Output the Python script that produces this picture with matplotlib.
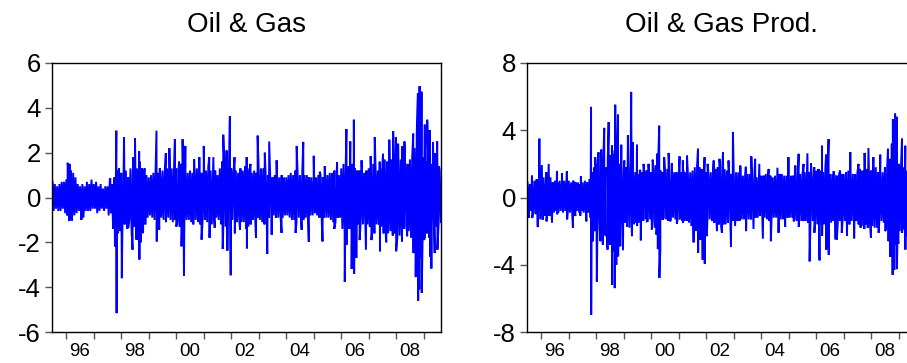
import numpy as np
import matplotlib
matplotlib.use("Agg")
import matplotlib.pyplot as plt

plt.rcParams["font.family"] = ["Liberation Sans", "DejaVu Sans"]
plt.rcParams["axes.unicode_minus"] = False

# monthly envelope of the dense band, first month = July 1995
START_YEAR = 1995.5

og_core_hi = [
    0.7, 0.6, 0.5, 0.6, 0.7, 0.7,
    0.8, 1.1, 1.2, 1.1, 0.9, 0.6, 0.5, 0.6, 0.5, 0.7, 0.6, 0.8,
    0.6, 0.7, 0.5, 0.6, 0.4, 0.5, 0.5, 0.8, 0.6, 0.9, 1.2, 1.3,
    1.1, 1.0, 1.2, 0.9, 1.3, 1.0, 1.4, 1.3, 1.6, 1.3, 1.2, 1.0,
    0.9, 1.0, 1.1, 1.3, 1.1, 1.0, 1.2, 1.1, 1.3, 1.2, 1.3, 1.2,
    1.3, 1.2, 1.5, 1.4, 1.2, 1.1, 1.2, 1.1, 1.2, 1.3, 1.2, 1.1,
    1.3, 1.2, 1.4, 1.2, 1.1, 1.2, 1.0, 1.3, 1.6, 1.5, 1.4, 1.3,
    1.3, 1.1, 1.2, 1.1, 1.3, 1.2, 1.4, 1.3, 1.2, 1.1, 1.2, 1.1,
    1.2, 1.3, 1.3, 1.1, 1.0, 1.0, 0.9, 1.0, 1.0, 0.9, 1.0, 0.9,
    0.9, 1.0, 1.1, 1.0, 1.2, 1.0, 1.0, 1.1, 1.0, 1.0, 0.9, 0.9,
    0.8, 0.9, 1.0, 1.0, 0.9, 1.0, 1.0, 1.1, 1.1, 1.2, 1.0, 1.0,
    1.3, 1.5, 1.6, 1.4, 1.6, 1.5, 1.3, 1.2, 1.2, 1.3, 1.1, 1.2,
    1.3, 1.4, 1.5, 1.3, 1.2, 1.3, 1.5, 1.7, 1.6, 1.5, 1.7, 1.6,
    1.8, 1.6, 1.7, 1.4, 1.3, 1.5, 1.7, 1.8, 2.2, 3.0, 2.8, 2.0,
    1.8, 1.6, 1.5, 1.5, 1.3, 1.2, 1.3, 1.2,
]
og_core_lo = [
    -0.6, -0.5, -0.6, -0.6, -0.5, -0.7,
    -0.8, -1.0, -1.0, -0.8, -0.7, -0.6, -0.6, -0.9, -0.6, -0.6, -0.6, -0.5,
    -0.5, -0.7, -0.6, -0.5, -0.6, -0.5, -0.8, -0.7, -0.6, -0.8, -1.6, -1.5,
    -1.3, -1.2, -1.4, -1.0, -1.5, -1.3, -1.6, -1.9, -2.0, -1.6, -1.2, -0.9,
    -0.8, -0.9, -1.0, -1.3, -1.0, -0.9, -1.0, -1.1, -0.9, -1.0, -1.1, -1.0,
    -1.1, -1.3, -1.5, -1.4, -1.0, -1.0, -1.1, -0.9, -1.0, -1.1, -1.2, -1.0,
    -1.0, -1.1, -1.3, -1.2, -1.0, -0.9, -1.0, -1.2, -1.5, -1.3, -1.2, -1.1,
    -1.0, -0.9, -1.1, -1.0, -1.1, -1.1, -1.4, -1.3, -1.2, -1.0, -1.1, -0.9,
    -1.0, -1.1, -1.2, -0.9, -0.9, -0.8, -0.8, -0.9, -0.9, -0.8, -0.9, -0.8,
    -0.8, -0.9, -1.0, -1.0, -1.1, -0.9, -1.0, -1.0, -0.9, -1.0, -0.8, -0.8,
    -0.7, -0.8, -0.9, -1.0, -0.9, -0.9, -0.9, -1.0, -1.1, -1.1, -0.9, -0.9,
    -1.4, -1.6, -1.5, -1.4, -1.7, -1.5, -1.3, -1.2, -1.1, -1.2, -1.1, -1.2,
    -1.3, -1.5, -1.6, -1.2, -1.2, -1.3, -1.6, -1.8, -1.6, -1.5, -1.7, -1.6,
    -1.8, -1.7, -1.7, -1.4, -1.2, -1.5, -1.8, -1.9, -2.4, -3.2, -2.7, -2.0,
    -1.8, -1.6, -1.8, -1.5, -1.3, -1.3, -1.2, -1.1,
]
# single-day spikes (decimal year, value)
og_spike_year = [
    1996.05, 1996.12, 1997.60, 1997.82, 1998.10, 1998.44, 1998.50, 1998.65,
    1998.85, 1999.28, 1999.40, 1999.62, 1999.75, 1999.95, 2000.10, 2000.23,
    2000.33, 2000.65, 2000.84, 2001.00, 2001.20, 2001.35, 2001.71, 2001.83,
    2001.95, 2002.12, 2002.56, 2002.70, 2002.96, 2003.22, 2003.38, 2003.65,
    2004.38, 2004.62, 2005.00, 2005.22, 2005.40, 2005.85, 2006.19, 2006.33,
    2006.46, 2006.74, 2007.07, 2007.22, 2007.40, 2007.52, 2007.75, 2007.89,
    2007.99, 2008.07, 2008.22, 2008.30, 2008.62, 2008.79, 2008.85, 2008.92,
    2009.04, 2009.13, 2009.22, 2009.34, 2009.41, 2009.49, 2009.56,
    1996.10, 1996.18, 1996.55, 1997.70, 1997.77, 1997.83, 1997.89, 1998.02,
    1998.25, 1998.41, 1998.55, 1998.66, 1998.73, 1999.29, 1999.38, 2000.00,
    2000.19, 2000.28, 2000.62, 2000.92, 2001.21, 2001.40, 2001.69, 2001.86,
    2001.98, 2002.13, 2002.32, 2002.57, 2002.90, 2003.31, 2003.47, 2003.83,
    2004.34, 2004.56, 2004.82, 2005.32, 2005.75, 2006.13, 2006.20, 2006.38,
    2006.47, 2006.55, 2006.67, 2006.90, 2007.10, 2007.41, 2007.64, 2008.00,
    2008.21, 2008.40, 2008.63, 2008.71, 2008.80, 2008.84, 2008.93, 2009.02,
    2009.23, 2009.28, 2009.40, 2009.50,
]
og_spike_val = [
    1.55, 1.50, 0.85, 2.98, 2.70, 1.80, 2.65, 2.06,
    1.30, 2.98, 1.30, 1.98, 2.20, 2.60, 1.60, 2.60,
    2.30, 1.70, 1.80, 2.30, 1.80, 1.80, 2.80, 2.10,
    3.62, 1.80, 1.80, 1.50, 2.76, 2.00, 2.50, 1.66,
    2.30, 2.48, 1.86, 1.15, 1.40, 1.57, 3.05, 2.50,
    3.47, 1.66, 1.84, 2.70, 1.60, 1.95, 2.58, 2.95,
    2.70, 2.40, 2.28, 2.50, 2.85, 4.65, 4.97, 4.72,
    3.25, 3.47, 3.00, 2.48, 1.98, 2.50, 1.38,
    -1.05, -1.00, -1.00, -1.40, -2.18, -5.16, -1.44, -3.60,
    -1.37, -2.33, -1.88, -2.77, -1.20, -1.96, -1.44, -1.30,
    -2.18, -3.50, -1.20, -1.88, -1.80, -1.36, -2.30, -2.37,
    -3.47, -1.60, -1.45, -2.27, -1.80, -2.52, -1.66, -1.58,
    -1.58, -1.44, -1.97, -1.96, -1.40, -3.77, -2.10, -3.19,
    -3.41, -2.70, -1.90, -2.33, -1.90, -2.40, -2.00, -2.40,
    -1.96, -1.73, -2.48, -3.55, -4.60, -4.10, -4.25, -1.90,
    -2.63, -3.17, -2.48, -2.33,
]

prod_core_hi = [
    0.9, 0.8, 0.9, 1.0, 1.1, 1.2,
    1.0, 1.2, 1.0, 1.1, 1.2, 0.9, 1.0, 0.9, 1.0, 0.9, 1.0, 0.9,
    1.0, 0.9, 1.0, 0.9, 0.9, 0.8, 0.9, 1.0, 0.9, 1.1, 1.5, 1.8,
    1.6, 1.7, 1.8, 2.0, 1.8, 2.2, 2.5, 2.8, 2.6, 2.3, 2.0, 1.8,
    1.7, 1.8, 2.0, 2.2, 1.7, 1.5, 1.4, 1.6, 1.5, 1.5, 1.6, 1.4,
    1.5, 1.7, 1.9, 2.1, 1.6, 1.5, 1.6, 1.7, 1.5, 1.4, 1.5, 1.5,
    1.4, 1.5, 1.6, 1.5, 1.4, 1.5, 1.6, 1.8, 1.9, 1.8, 1.7, 1.6,
    1.5, 1.4, 1.5, 1.6, 1.7, 1.8, 1.9, 1.8, 1.7, 1.6, 1.5, 1.4,
    1.4, 1.5, 1.5, 1.4, 1.3, 1.3, 1.4, 1.4, 1.3, 1.3, 1.2, 1.2,
    1.3, 1.3, 1.4, 1.4, 1.3, 1.2, 1.3, 1.3, 1.4, 1.4, 1.3, 1.3,
    1.3, 1.3, 1.3, 1.4, 1.3, 1.4, 1.4, 1.5, 1.6, 1.5, 1.4, 1.5,
    1.6, 1.7, 1.6, 1.5, 1.8, 1.6, 1.4, 1.4, 1.3, 1.3, 1.4, 1.4,
    1.4, 1.5, 1.6, 1.5, 1.4, 1.4, 1.5, 1.7, 1.6, 1.6, 1.7, 1.6,
    1.6, 1.7, 1.8, 1.5, 1.4, 1.5, 1.8, 1.9, 2.3, 3.2, 3.0, 2.2,
    2.0, 1.8, 1.8, 1.6, 1.5, 1.4, 1.4, 1.3,
]
prod_core_lo = [
    -0.9, -0.8, -0.9, -1.0, -1.2, -1.3,
    -1.0, -1.1, -1.0, -1.1, -1.0, -0.9, -0.8, -0.9, -0.8, -0.9, -0.8, -0.9,
    -0.9, -1.0, -0.9, -0.8, -0.9, -0.8, -0.9, -1.0, -0.9, -1.2, -1.8, -2.0,
    -1.8, -1.9, -2.0, -2.2, -1.9, -2.4, -2.8, -3.2, -2.9, -2.5, -2.2, -1.8,
    -1.5, -1.7, -1.8, -2.0, -1.6, -1.5, -1.5, -1.6, -1.4, -1.3, -1.4, -1.3,
    -1.4, -1.8, -2.0, -2.2, -1.3, -1.2, -1.3, -1.4, -1.3, -1.2, -1.3, -1.3,
    -1.3, -1.4, -1.4, -1.4, -1.5, -1.7, -1.8, -2.0, -2.2, -2.0, -1.7, -1.5,
    -1.4, -1.3, -1.4, -1.5, -1.5, -1.6, -1.7, -1.6, -1.6, -1.5, -1.4, -1.4,
    -1.3, -1.4, -1.4, -1.3, -1.3, -1.2, -1.3, -1.3, -1.2, -1.2, -1.2, -1.1,
    -1.3, -1.2, -1.3, -1.4, -1.3, -1.2, -1.2, -1.3, -1.3, -1.3, -1.2, -1.2,
    -1.2, -1.2, -1.3, -1.4, -1.3, -1.4, -1.4, -1.4, -1.5, -1.5, -1.4, -1.5,
    -1.6, -1.8, -1.7, -1.6, -1.9, -1.7, -1.5, -1.4, -1.3, -1.3, -1.4, -1.4,
    -1.4, -1.5, -1.6, -1.4, -1.3, -1.4, -1.6, -1.8, -1.7, -1.6, -1.8, -1.6,
    -1.7, -1.8, -1.8, -1.5, -1.4, -1.5, -1.9, -2.0, -2.6, -3.0, -2.8, -2.2,
    -2.0, -1.8, -1.9, -1.6, -1.5, -1.4, -1.3, -1.2,
]
prod_spike_year = [
    1995.66, 1995.93, 1996.02, 1996.18, 1996.27, 1996.57, 1996.75, 1996.93,
    1997.44, 1997.81, 1997.96, 1998.08, 1998.18, 1998.29, 1998.45, 1998.57,
    1998.69, 1998.79, 1998.91, 1999.02, 1999.15, 1999.27, 1999.32, 1999.48,
    1999.60, 1999.72, 1999.90, 2000.05, 2000.21, 2000.29, 2000.47, 2000.63,
    2000.75, 2001.03, 2001.15, 2001.30, 2001.70, 2001.94, 2002.05, 2002.27,
    2002.48, 2002.61, 2002.81, 2002.97, 2003.24, 2003.44, 2003.64, 2003.78,
    2003.93, 2004.27, 2004.59, 2004.99, 2005.24, 2005.36, 2005.54, 2005.68,
    2005.81, 2005.93, 2006.21, 2006.36, 2006.45, 2006.63, 2006.87, 2007.24,
    2007.54, 2007.76, 2007.90, 2008.08, 2008.33, 2008.61, 2008.79, 2008.87,
    2008.93, 2009.12, 2009.24,
    1995.54, 1995.67, 1995.87, 1996.05, 1996.19, 1996.39, 1996.58, 1996.94,
    1997.15, 1997.24, 1997.42, 1997.64, 1997.815, 1997.88, 1998.02, 1998.15,
    1998.24, 1998.34, 1998.41, 1998.48, 1998.575, 1998.67, 1998.73, 1998.795,
    1998.87, 1998.97, 1999.12, 1999.30, 1999.485, 1999.62, 1999.84, 2000.02,
    2000.18, 2000.24, 2000.295, 2000.33, 2000.42, 2000.69, 2000.93, 2001.155,
    2001.54, 2001.705, 2001.78, 2001.87, 2001.945, 2002.02, 2002.39, 2002.57,
    2002.90, 2003.05, 2003.45, 2003.72, 2004.06, 2004.35, 2004.63, 2004.87,
    2005.18, 2005.365, 2005.76, 2005.935, 2006.12, 2006.215, 2006.365, 2006.455,
    2006.69, 2006.75, 2006.93, 2007.12, 2007.38, 2007.60, 2007.75, 2007.99,
    2008.27, 2008.51, 2008.63, 2008.69, 2008.78, 2008.84, 2008.935, 2008.99,
    2009.125, 2009.245, 2009.30,
]
prod_spike_val = [
    1.30, 3.50, 1.93, 1.50, 2.00, 1.58, 1.44, 1.56,
    1.26, 5.39, 2.40, 2.69, 2.85, 4.14, 4.49, 3.09,
    5.52, 4.93, 3.14, 2.20, 3.70, 6.28, 3.30, 3.14,
    1.60, 2.00, 2.00, 2.25, 2.60, 4.27, 2.40, 2.65,
    2.05, 2.45, 2.20, 2.49, 2.90, 2.40, 2.00, 2.20,
    2.30, 2.70, 2.20, 3.90, 1.90, 1.83, 2.45, 2.30,
    2.00, 1.70, 1.77, 2.40, 1.90, 2.60, 2.00, 2.63,
    2.05, 1.80, 3.08, 2.55, 3.48, 1.56, 1.60, 2.70,
    2.00, 2.65, 2.95, 2.40, 2.55, 2.90, 4.67, 4.99,
    4.80, 3.50, 3.08,
    -1.22, -1.22, -1.76, -1.32, -1.42, -1.48, -1.00, -1.30,
    -1.80, -1.10, -1.08, -1.42, -6.98, -2.60, -5.00, -2.60,
    -2.80, -2.30, -3.10, -2.80, -5.19, -5.39, -4.00, -3.50,
    -2.90, -3.14, -1.70, -2.30, -1.70, -2.55, -1.42, -1.90,
    -2.20, -3.07, -4.79, -3.07, -1.32, -1.42, -1.56, -1.52,
    -2.67, -3.30, -2.50, -3.70, -3.94, -2.30, -2.00, -2.10,
    -2.95, -1.70, -2.00, -1.87, -2.45, -2.60, -2.10, -1.75,
    -1.42, -1.75, -3.80, -2.10, -3.74, -2.27, -3.10, -3.40,
    -2.50, -2.50, -2.10, -2.27, -2.43, -1.72, -1.87, -2.40,
    -2.10, -2.00, -2.60, -3.54, -4.60, -4.30, -4.26, -2.75,
    -2.10, -3.10, -2.30,
]

year_ticks = list(range(1996, 2010))
label_years = [1996, 1998, 2000, 2002, 2004, 2006, 2008]
label_text = ["96", "98", "00", "02", "04", "06", "08"]


def build_series(core_hi, core_lo, spike_year, spike_val):
    month_t = START_YEAR + np.arange(len(core_hi)) / 12.0
    t = np.concatenate([month_t, month_t + 1 / 24, spike_year])
    v = np.concatenate([core_hi, core_lo, spike_val])
    order = np.argsort(t, kind="stable")
    return t[order], v[order]


def draw_panel(ax, t, v, title, ylim, yticks):
    ax.plot(t, v, color="#0000ff", lw=1.4, solid_joinstyle="miter")
    ax.set_xlim(1995.48, 2009.63)
    ax.set_ylim(*ylim)
    ax.set_yticks(yticks)
    ax.set_yticklabels([str(y) for y in yticks])
    ax.set_xticks(year_ticks)
    ax.set_xticklabels([])
    ax.set_xticks([y + 0.5 for y in label_years], minor=True)
    ax.set_xticklabels(label_text, minor=True)
    ax.tick_params(axis="x", which="major", direction="out", length=5,
                   width=1, color="#555555")
    ax.tick_params(axis="x", which="minor", length=0, pad=8, labelsize=13.5)
    ax.tick_params(axis="y", direction="out", length=5, width=1,
                   color="#555555", labelsize=18.5, pad=3)
    for spine in ax.spines.values():
        spine.set_linewidth(1.0)
        spine.set_color("black")
    ax.set_title(title, fontsize=20, pad=22)


fig = plt.figure(figsize=(9.07, 3.63), dpi=100)
ax1 = fig.add_axes([52 / 907, 31 / 363, 389 / 907, 269 / 363])
ax2 = fig.add_axes([527 / 907, 31 / 363, 389 / 907, 269 / 363])

t1, v1 = build_series(og_core_hi, og_core_lo, og_spike_year, og_spike_val)
t2, v2 = build_series(prod_core_hi, prod_core_lo, prod_spike_year, prod_spike_val)

draw_panel(ax1, t1, v1, "Oil & Gas", (-6, 6), [-6, -4, -2, 0, 2, 4, 6])
draw_panel(ax2, t2, v2, "Oil & Gas Prod.", (-8, 8), [-8, -4, 0, 4, 8])

fig.savefig("out.png", dpi=100, facecolor="white")
